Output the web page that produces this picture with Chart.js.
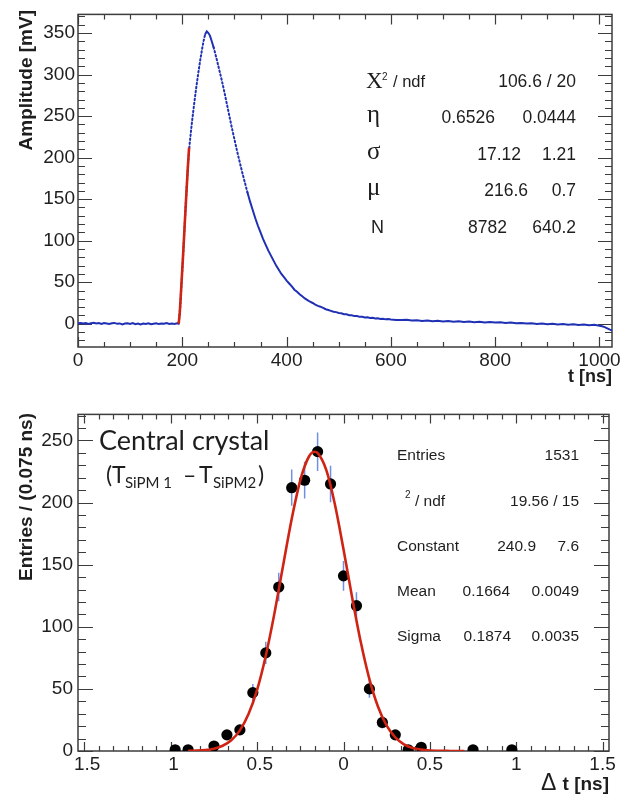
<!DOCTYPE html>
<html>
<head>
<meta charset="utf-8">
<script src="https://cdn.jsdelivr.net/npm/chart.js@4.4.1/dist/chart.umd.min.js"></script>
<style>
  html, body { margin: 0; padding: 0; background: #fff; }
  #wrap { position: relative; width: 628px; height: 796px; }
  .pane { position: absolute; left: 0; width: 628px; height: 398px; }
  #p1 { top: 0; }
  #p2 { top: 398px; }
</style>
</head>
<body>
<div id="wrap">
  <div class="pane" id="p1"><canvas id="pulseChart" width="628" height="398"></canvas></div>
  <div class="pane" id="p2"><canvas id="dtChart" width="628" height="398"></canvas></div>
</div>
<script>
// ==============================
// top: SiPM pulse, bottom: time difference
// ==============================

// --- pulse waveform (t in ns, amplitude in mV) ---
const PULSE_T = [
  0,5,10,15,20,25,30,35,40,45,50,55,60,65,70,75,80,85,90,95,
  100,105,110,115,120,125,130,135,140,145,150,155,160,165,170,175,180,185,190,
  193,196,199,202,205,208,211,214,218,222,226,230,234,238,241,244,247,250,253,256,
  260,265,270,275,280,285,290,295,300,305,310,315,320,325,330,335,340,345,350,355,
  360,365,370,375,380,385,390,395,400,405,410,415,420,425,430,435,440,445,450,455,
  460,465,470,475,480,485,490,495,500,505,510,515,520,525,530,535,540,545,550,555,
  560,565,570,575,580,585,590,595,
  600,610,620,630,640,650,660,670,680,690,700,710,720,730,740,750,760,770,780,790,
  800,810,820,830,840,850,860,870,880,890,900,910,920,930,940,950,960,970,980,990,
  1000,1005,1010,1015,1020,1024
];
const PULSE_MV = [
  0.6,1.0,0.3,0.9,-0.2,0.7,1.1,0.2,0.8,-0.3,0.9,0.4,-0.4,0.5,1.0,-0.1,0.4,-0.7,0.3,0.7,
  -0.2,0.8,-0.5,0.2,-0.8,0.3,-0.3,0.6,-0.6,0.1,0.6,-0.4,0.4,-0.1,0.8,-0.3,0.3,-0.2,0.5,
  0.2,20,53,88,124,160,192,216,240,261,281,299,316,331,341,349,352,350,347,341,
  333,321,308,295,281,266,251,236,222,208,195,182,170,158,147,137,127,118,110,102,
  95,88,82,76,70,65,60,56,52,48.5,45,41,38.5,35.5,33,30.5,28.5,26.5,25,23,
  21.5,20.5,19,17.5,16.5,15.5,14.5,14,13,12.6,11.5,11.4,10.3,10.2,9.2,9.3,8.3,8.5,7.6,7.8,
  6.9,7.2,6.3,6.6,5.8,6.1,5.3,5.6,
  5.0,4.5,4.6,4.9,3.8,4.3,3.4,3.9,3.0,3.5,2.8,3.3,2.4,2.9,2.1,2.7,1.8,2.4,1.5,2.1,
  1.4,1.9,0.9,1.4,0.6,1.0,0.2,0.7,-0.2,0.3,-0.5,0.0,-0.8,-0.3,-1.1,-0.6,-1.4,-0.8,-1.7,-1.2,
  -2.4,-3.0,-4.0,-5.5,-7.0,-8.0
];
// rising-edge fit (red)
const RISE_FIT_T  = [193,195,197,199,201,203,205,207,209,211,213];
const RISE_FIT_MV = [0,12,33,55,77,100,124,147,170,192,212];

const PULSE_X_TICKS = [0, 200, 400, 600, 800, 1000];
const PULSE_Y_TICKS = [0, 50, 100, 150, 200, 250, 300, 350];

const PULSE_STAT_NAMES = ['\u03A7', '\u03B7', '\u03C3', '\u03BC', 'N'];
const PULSE_STAT_VALS  = ['', '0.6526', '17.12', '216.6', '8782'];
const PULSE_STAT_ERRS  = ['106.6 / 20', '0.0444', '1.21', '0.7', '640.2'];

// --- Δt histogram, bin width 0.075 ns ---
const DT_BINS   = [-0.975,-0.9,-0.75,-0.675,-0.6,-0.525,-0.45,-0.375,-0.3,-0.225,-0.15,-0.075,0,0.075,0.15,0.225,0.3,0.375,0.45,0.75,0.975];
const DT_COUNTS = [1,1,4,13,17,47,79,132,212,218,241,215,141,117,50,23,13,1,3,1,1];
const DT_ERRS   = [1,1,2,3.6,4.1,6.9,8.9,11.5,14.6,14.8,15.5,14.7,11.9,10.8,7.1,4.8,3.6,1,1.7,1,1];
// gaussian fit curve (red)
const GAUS_X = [-0.9,-0.85,-0.8,-0.75,-0.7,-0.65,-0.6,-0.55,-0.5,-0.45,-0.4,-0.35,-0.3,-0.25,-0.2,-0.1664,-0.15,-0.1,-0.05,0,0.05,0.1,0.15,0.2,0.25,0.3,0.35,0.4,0.45,0.5,0.55,0.6,0.65,0.7];
const GAUS_Y = [0.1,0.3,0.8,1.9,4.2,8.6,16.6,29.7,49.4,76.7,110.8,149.1,186.8,218.1,237.1,240.9,240.0,226.3,198.6,162.4,123.7,87.7,57.9,35.6,20.4,10.9,5.4,2.5,1.1,0.4,0.2,0.1,0,0];

// the original axis lost its minus signs, so the labels show only magnitudes
const DT_X_TICKS  = [-1.5, -1, -0.5, 0, 0.5, 1, 1.5];
const DT_X_LABELS = [' 1.5', ' 1', ' 0.5', '0', '0.5', '1', '1.5'];
const DT_Y_TICKS  = [0, 50, 100, 150, 200, 250];

const DT_STAT_NAMES = ['Entries', '/ ndf', 'Constant', 'Mean', 'Sigma'];
const DT_STAT_VALS  = ['', '', '240.9', '0.1664', '0.1874'];
const DT_STAT_ERRS  = ['1531', '19.56 / 15', '7.6', '0.0049', '0.0035'];

// ------------------------------
const SANS  = '"Liberation Sans", Arial, Helvetica, sans-serif';
const SERIF = '"Liberation Serif", "Times New Roman", serif';
const INK   = '#1e1e1e';
const AXIS  = '#3c3c3c';
const BLUE  = '#1f30b4';
const RED   = '#cf2414';
const ERRC  = '#7190e4';

function txt(ctx, s, x, y, font, align){
  ctx.font = font;
  ctx.textAlign = align || 'left';
  ctx.textBaseline = 'alphabetic';
  ctx.fillText(s, x, y);
}

function isMultiple(v, step){ return Math.abs(v/step - Math.round(v/step)) < 1e-6; }
function fixedTicks(list){ return s => { s.ticks = list.map(v => ({ value: v })); }; }

// ROOT style frame with ticks on all four sides, pointing inwards
function drawFrame(chart, o){
  const { ctx, chartArea: a, scales: { x, y } } = chart;
  ctx.save();
  ctx.strokeStyle = AXIS;
  ctx.lineWidth = 1.2;
  ctx.beginPath();
  for (let i = Math.ceil(x.min/o.xMinor - 1e-6); i <= Math.floor(x.max/o.xMinor + 1e-6); i++){
    const v = i*o.xMinor;
    const px = Math.round(x.getPixelForValue(v)) + 0.5;
    const L = isMultiple(v, o.xMajor) ? o.xMaj : o.xMin;
    ctx.moveTo(px, a.bottom); ctx.lineTo(px, a.bottom - L);
    ctx.moveTo(px, a.top);    ctx.lineTo(px, a.top + L);
  }
  for (let i = Math.ceil(y.min/o.yMinor - 1e-6); i <= Math.floor(y.max/o.yMinor + 1e-6); i++){
    const v = i*o.yMinor;
    const py = Math.round(y.getPixelForValue(v)) + 0.5;
    const L = isMultiple(v, o.yMajor) ? o.yMaj : o.yMin;
    ctx.moveTo(a.left, py);  ctx.lineTo(a.left + L, py);
    ctx.moveTo(a.right, py); ctx.lineTo(a.right - L, py);
  }
  ctx.stroke();
  ctx.lineWidth = 1.5;
  ctx.strokeRect(a.left, a.top, a.right - a.left, a.bottom - a.top);
  ctx.restore();
}

function tickFont(){ return { family: SANS, size: 19 }; }

// ---------- top chart ----------
const pulseFrame = {
  id: 'pulseFrame',
  beforeDatasetsDraw(chart){
    drawFrame(chart, { xMinor: 50, xMajor: 200, xMaj: 10, xMin: 5, yMinor: 10, yMajor: 50, yMaj: 14, yMin: 7 });
  },
  afterDraw(chart){
    const ctx = chart.ctx;
    ctx.save();
    ctx.fillStyle = INK;
    // axis titles
    txt(ctx, 't [ns]', 612, 382, 'bold 18px ' + SANS, 'right');
    ctx.save();
    ctx.translate(32, 10);
    ctx.rotate(-Math.PI/2);
    txt(ctx, 'Amplitude [mV]', 0, 0, 'bold 19px ' + SANS, 'right');
    ctx.restore();
    // fit statistics
    const rowY = [87, 123, 160, 196, 233];
    const valX = [0, 495, 521, 528, 507];
    txt(ctx, PULSE_STAT_NAMES[0], 366, 88, '23px ' + SERIF);
    txt(ctx, '2', 382, 80, '10px ' + SANS);
    txt(ctx, '/ ndf', 393, 87, '16.5px ' + SANS);
    for (let i = 1; i < PULSE_STAT_NAMES.length; i++){
      const nm = PULSE_STAT_NAMES[i];
      if (nm === 'N') txt(ctx, nm, 371, rowY[i], '18px ' + SANS);
      else txt(ctx, nm, 367, rowY[i] - 1, '25px ' + SERIF);
    }
    for (let i = 0; i < rowY.length; i++){
      if (PULSE_STAT_VALS[i]) txt(ctx, PULSE_STAT_VALS[i], valX[i], rowY[i], '17.5px ' + SANS, 'right');
      txt(ctx, PULSE_STAT_ERRS[i], 576, rowY[i], '17.5px ' + SANS, 'right');
    }
    ctx.restore();
  }
};

const pulseChart = new Chart(document.getElementById('pulseChart').getContext('2d'), {
  type: 'line',
  data: {
    datasets: [
      {
        label: 'fit',
        data: RISE_FIT_T.map((t, i) => ({ x: t, y: RISE_FIT_MV[i] })),
        borderColor: RED, borderWidth: 2.6, pointRadius: 0, tension: 0.2, order: 0
      },
      {
        label: 'pulse',
        data: PULSE_T.map((t, i) => ({ x: t, y: PULSE_MV[i] })),
        borderColor: BLUE, borderWidth: 2, pointRadius: 0, tension: 0, order: 1,
        borderCapStyle: 'round',
        segment: {
          borderDash: c => (Math.abs(c.p1.y - c.p0.y) > 3.6 * Math.abs(c.p1.x - c.p0.x) ? [1.5, 2.5] : undefined)
        }
      }
    ]
  },
  options: {
    responsive: false, animation: false,
    layout: { padding: { top: 10, right: 16, left: 0, bottom: 0 } },
    plugins: { legend: { display: false }, tooltip: { enabled: false } },
    scales: {
      x: {
        type: 'linear', min: 0, max: 1024,
        afterFit(s){ s.height = 51; },
        afterBuildTicks: fixedTicks(PULSE_X_TICKS),
        grid: { display: false, drawTicks: false }, border: { display: false },
        ticks: { padding: 2, maxRotation: 0, autoSkip: false, color: INK, font: tickFont(), callback: v => String(v) }
      },
      y: {
        type: 'linear', min: -28, max: 372.5,
        afterFit(s){ s.width = 78; },
        afterBuildTicks: fixedTicks(PULSE_Y_TICKS),
        grid: { display: false, drawTicks: false }, border: { display: false },
        ticks: { padding: 3, color: INK, font: tickFont(), callback: v => String(v) }
      }
    }
  },
  plugins: [pulseFrame]
});

// ---------- bottom chart ----------
const dtDecor = {
  id: 'dtDecor',
  beforeDatasetsDraw(chart){
    drawFrame(chart, { xMinor: 0.5/6, xMajor: 0.5, xMaj: 9, xMin: 5, yMinor: 10, yMajor: 50, yMaj: 15, yMin: 8 });
    const { ctx, scales: { x, y } } = chart;
    ctx.save();
    ctx.strokeStyle = ERRC;
    ctx.lineWidth = 1.5;
    ctx.beginPath();
    DT_BINS.forEach((b, i) => {
      const px = x.getPixelForValue(b);
      ctx.moveTo(px, y.getPixelForValue(Math.max(DT_COUNTS[i] - DT_ERRS[i], 0)));
      ctx.lineTo(px, y.getPixelForValue(DT_COUNTS[i] + DT_ERRS[i]));
    });
    ctx.stroke();
    ctx.restore();
  },
  afterDraw(chart){
    const ctx = chart.ctx;
    ctx.save();
    ctx.fillStyle = INK;
    // axis titles
    txt(ctx, '\u0394', 541, 392, '23px ' + SANS);
    txt(ctx, 't [ns]', 609, 392, 'bold 19px ' + SANS, 'right');
    ctx.save();
    ctx.translate(32, 15);
    ctx.rotate(-Math.PI/2);
    txt(ctx, 'Entries / (0.075 ns)', 0, 0, 'bold 19px ' + SANS, 'right');
    ctx.restore();
    // label
    const G = 'Lato, "Noto Sans", sans-serif';
    txt(ctx, 'Central crystal', 99, 52, '27px ' + G);
    txt(ctx, '(', 106, 85, '23px ' + G);
    txt(ctx, 'T', 112, 85, '23px ' + G);
    txt(ctx, 'SiPM 1', 125, 90, '15px ' + G);
    txt(ctx, '\u2013', 183, 85, '23px ' + G);
    txt(ctx, 'T', 199, 85, '23px ' + G);
    txt(ctx, 'SiPM2', 213, 90, '15px ' + G);
    txt(ctx, ')', 258, 85, '23px ' + G);
    // fit statistics
    const rowY = [62, 108, 153, 198, 243];
    const valX = [0, 0, 536, 510, 511];
    txt(ctx, DT_STAT_NAMES[0], 397, rowY[0], '15.5px ' + SANS);
    txt(ctx, '2', 405, 100, '10px ' + SANS);
    txt(ctx, DT_STAT_NAMES[1], 415, rowY[1], '15.5px ' + SANS);
    for (let i = 2; i < DT_STAT_NAMES.length; i++) txt(ctx, DT_STAT_NAMES[i], 397, rowY[i], '15.5px ' + SANS);
    for (let i = 0; i < rowY.length; i++){
      if (DT_STAT_VALS[i]) txt(ctx, DT_STAT_VALS[i], valX[i], rowY[i], '15.5px ' + SANS, 'right');
      txt(ctx, DT_STAT_ERRS[i], 579, rowY[i], '15.5px ' + SANS, 'right');
    }
    ctx.restore();
  }
};

const dtChart = new Chart(document.getElementById('dtChart').getContext('2d'), {
  type: 'line',
  data: {
    datasets: [
      {
        label: 'gaus',
        data: GAUS_X.map((v, i) => ({ x: v, y: GAUS_Y[i] })),
        borderColor: RED, borderWidth: 2.6, pointRadius: 0, cubicInterpolationMode: 'monotone', order: 0
      },
      {
        label: 'entries',
        data: DT_BINS.map((b, i) => ({ x: b, y: DT_COUNTS[i] })),
        showLine: false, pointRadius: 5.6, pointBackgroundColor: '#000', pointBorderWidth: 0, order: 1
      }
    ]
  },
  options: {
    responsive: false, animation: false,
    layout: { padding: { top: 15, right: 19, left: 0, bottom: 0 } },
    plugins: { legend: { display: false }, tooltip: { enabled: false } },
    scales: {
      x: {
        type: 'linear', min: -1.5375, max: 1.5375,
        afterFit(s){ s.height = 45; },
        afterBuildTicks: fixedTicks(DT_X_TICKS),
        grid: { display: false, drawTicks: false }, border: { display: false },
        ticks: {
          padding: 2, maxRotation: 0, autoSkip: false, color: INK, font: tickFont(),
          callback: (v, i) => DT_X_LABELS[i]
        }
      },
      y: {
        type: 'linear', min: 0, max: 271,
        afterFit(s){ s.width = 78; },
        afterBuildTicks: fixedTicks(DT_Y_TICKS),
        grid: { display: false, drawTicks: false }, border: { display: false },
        ticks: { padding: 5, color: INK, font: tickFont(), callback: v => String(v) }
      }
    }
  },
  plugins: [dtDecor]
});
</script>
</body>
</html>
